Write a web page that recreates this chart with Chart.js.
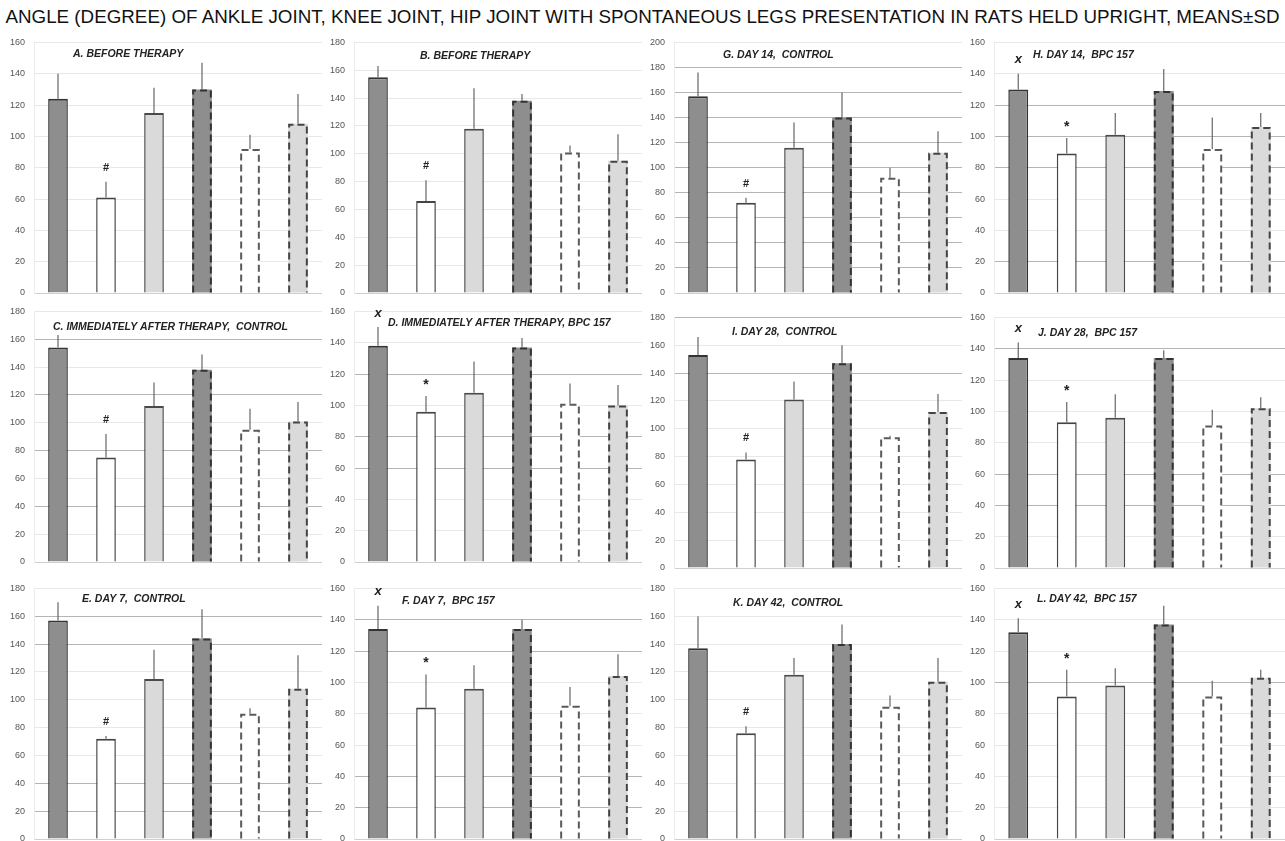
<!DOCTYPE html>
<html>
<head>
<meta charset="utf-8">
<script src="https://cdn.jsdelivr.net/npm/chart.js@4.4.0/dist/chart.umd.min.js"></script>
<style>
    html, body { margin: 0; padding: 0; background: #fff; }
    body { width: 1285px; height: 841px; overflow: hidden; position: relative; font-family: 'Liberation Sans', Arial, sans-serif; }
    #title { position: absolute; left: 0; top: 6px; width: 1285px; text-align: center; font-size: 18.8px; color: #111; white-space: nowrap; }
    .panel { position: absolute; }
</style>
</head>
<body>
<div id="title">ANGLE (DEGREE) OF ANKLE JOINT, KNEE JOINT, HIP JOINT WITH SPONTANEOUS LEGS PRESENTATION IN RATS HELD UPRIGHT, MEANS±SD</div>
<script>
// six bars per panel: solid outline = first leg, dashed outline = second leg
const joints = ['Ankle 1', 'Knee 1', 'Hip 1', 'Ankle 2', 'Knee 2', 'Hip 2'];

// means and SD (degrees)
const meanA = [124, 61, 115, 130, 92, 108];
const sdA   = [16, 10, 16, 17, 9, 19];
const meanB = [155, 66, 118, 138, 101, 95];
const sdB   = [8, 15, 29, 5, 5, 19];
const meanC = [154, 75, 112, 138, 95, 101];
const sdC   = [9, 17, 17, 11, 15, 14];
const meanD = [138, 96, 108, 137, 101, 100];
const sdD   = [12, 10, 20, 6, 13, 13];
const meanE = [157, 72, 115, 144, 90, 108];
const sdE   = [13, 2, 21, 21, 4, 24];
const meanF = [134, 84, 96, 134, 85, 104];
const sdF   = [15, 21, 15, 6, 12, 14];
const meanG = [157, 72, 116, 140, 92, 112];
const sdG   = [19, 4, 20, 20, 8, 17];
const meanH = [130, 89, 101, 129, 92, 106];
const sdH   = [10, 10, 14, 14, 20, 9];
const meanI = [153, 78, 121, 147, 94, 112];
const sdI   = [13, 5, 13, 13, 1, 13];
const meanJ = [134, 93, 96, 134, 91, 102];
const sdJ   = [10, 13, 15, 5, 10, 7];
const meanK = [137, 76, 118, 140, 95, 113];
const sdK   = [23, 5, 12, 14, 8, 17];
const meanL = [132, 91, 98, 137, 91, 103];
const sdL   = [9, 17, 11, 12, 10, 5];

// significance marks above bars
const marksControl = ['', '#', '', '', '', ''];
const marksBpc = ['x', '*', '', '', '', ''];

// y axis tops
const yMaxA = 160, yMaxB = 180, yMaxC = 180, yMaxD = 160, yMaxE = 180, yMaxF = 160;
const yMaxG = 200, yMaxH = 160, yMaxI = 180, yMaxJ = 160, yMaxK = 180, yMaxL = 160;

const barFill = ['#8e8e8e', '#ffffff', '#dadada', '#8e8e8e', '#ffffff', '#dadada'];
const barEdge = ['#333333', '#444444', '#4a4a4a', '#333333', '#5a5a5a', '#444444'];
const dashed  = [false, false, false, true, true, true];

const panels = [
    { title: 'A. BEFORE THERAPY', mean: meanA, sd: sdA, max: yMaxA, marks: marksControl, left: 0, top: 35, tx: 73, ty: 19, strong: [] },
    { title: 'B. BEFORE THERAPY', mean: meanB, sd: sdB, max: yMaxB, marks: marksControl, left: 320, top: 35, tx: 100, ty: 21, strong: [] },
    { title: 'G. DAY 14,  CONTROL', mean: meanG, sd: sdG, max: yMaxG, marks: marksControl, left: 640, top: 35, tx: 83, ty: 20, strong: [20, 40, 60, 80, 100, 120, 140, 160, 180] },
    { title: 'H. DAY 14,  BPC 157', mean: meanH, sd: sdH, max: yMaxH, marks: marksBpc, left: 960, top: 35, tx: 73, ty: 20, strong: [20, 80, 100, 120] },
    { title: 'C. IMMEDIATELY AFTER THERAPY,  CONTROL', mean: meanC, sd: sdC, max: yMaxC, marks: marksControl, left: 0, top: 304, tx: 53, ty: 23, strong: [40, 80, 120, 160] },
    { title: 'D. IMMEDIATELY AFTER THERAPY, BPC 157', mean: meanD, sd: sdD, max: yMaxD, marks: marksBpc, left: 320, top: 304, tx: 68, ty: 19, strong: [60, 80, 120] },
    { title: 'I. DAY 28,  CONTROL', mean: meanI, sd: sdI, max: yMaxI, marks: marksControl, left: 640, top: 310, tx: 92, ty: 22, strong: [140, 180] },
    { title: 'J. DAY 28,  BPC 157', mean: meanJ, sd: sdJ, max: yMaxJ, marks: marksBpc, left: 960, top: 310, tx: 78, ty: 23, strong: [40, 60, 140] },
    { title: 'E. DAY 7,  CONTROL', mean: meanE, sd: sdE, max: yMaxE, marks: marksControl, left: 0, top: 581, tx: 82, ty: 18, strong: [20, 40, 140, 160] },
    { title: 'F. DAY 7,  BPC 157', mean: meanF, sd: sdF, max: yMaxF, marks: marksBpc, left: 320, top: 581, tx: 82, ty: 20, strong: [20, 40, 120, 140] },
    { title: 'K. DAY 42,  CONTROL', mean: meanK, sd: sdK, max: yMaxK, marks: marksControl, left: 640, top: 581, tx: 93, ty: 22, strong: [] },
    { title: 'L. DAY 42,  BPC 157', mean: meanL, sd: sdL, max: yMaxL, marks: marksBpc, left: 960, top: 581, tx: 77, ty: 18, strong: [100] }
];

// dashed outlines, error bars, marks and panel captions
const panelDecor = {
    id: 'panelDecor',
    afterDatasetsDraw(chart) {
        const p = chart.options.plugins.panelDecor;
        const ctx = chart.ctx;
        const yScale = chart.scales.y;
        const bars = chart.getDatasetMeta(0).data;
        ctx.save();
        bars.forEach((bar, i) => {
            const half = bar.width / 2;
            const l = bar.x - half + 1, r = bar.x + half - 1;
            if (dashed[i]) {
                ctx.setLineDash([7, 4]);
                ctx.lineWidth = 2;
                ctx.strokeStyle = barEdge[i];
                ctx.beginPath();
                ctx.moveTo(l, bar.base);
                ctx.lineTo(l, bar.y + 1);
                ctx.lineTo(r, bar.y + 1);
                ctx.lineTo(r, bar.base);
                ctx.stroke();
                ctx.setLineDash([]);
            }
            const yTop = yScale.getPixelForValue(p.mean[i] + p.sd[i]);
            ctx.lineWidth = 1.2;
            ctx.strokeStyle = '#666';
            ctx.beginPath();
            ctx.moveTo(bar.x, bar.y);
            ctx.lineTo(bar.x, yTop);
            ctx.stroke();

            const mark = p.marks[i];
            if (mark) {
                ctx.fillStyle = '#222';
                ctx.textAlign = 'center';
                ctx.textBaseline = 'middle';
                if (mark === 'x') ctx.font = 'italic bold 13px "Liberation Sans"';
                else if (mark === '*') ctx.font = 'bold 14px "Liberation Sans"';
                else ctx.font = 'bold 11px "Liberation Sans"';
                ctx.fillText(mark, bar.x, yTop - 14 + (mark === '*' ? 3 : 0));
            }
        });
        ctx.fillStyle = '#222';
        ctx.textAlign = 'left';
        ctx.textBaseline = 'middle';
        ctx.font = 'italic bold 10.5px "Liberation Sans"';
        ctx.fillText(p.title, p.tx, p.ty);
        ctx.restore();
    }
};

panels.forEach(p => {
    const div = document.createElement('div');
    div.className = 'panel';
    div.style.left = p.left + 'px';
    div.style.top = p.top + 'px';
    const canvas = document.createElement('canvas');
    canvas.width = p.left === 960 ? 325 : 322;
    canvas.height = 268;
    div.appendChild(canvas);
    document.body.appendChild(div);

    new Chart(canvas.getContext('2d'), {
        type: 'bar',
        data: {
            labels: joints,
            datasets: [{
                data: p.mean,
                backgroundColor: barFill,
                borderColor: barEdge,
                borderWidth: dashed.map(d => d ? 0 : { top: 2, left: 1.5, right: 1.5, bottom: 0 }),
                barPercentage: 0.41,
                categoryPercentage: 1
            }]
        },
        options: {
            responsive: false,
            animation: false,
            layout: { padding: { top: 0, right: 0, bottom: 10, left: 0 } },
            plugins: {
                legend: { display: false },
                tooltip: { enabled: false },
                panelDecor: p
            },
            scales: {
                x: {
                    grid: { display: false, drawTicks: false },
                    ticks: { display: false },
                    border: { color: '#cfcfcf' }
                },
                y: {
                    min: 0,
                    max: p.max,
                    afterFit: axis => { axis.width = 34; },
                    ticks: {
                        stepSize: 20,
                        color: '#555',
                        padding: 2,
                        font: { family: 'Liberation Sans', size: 9 }
                    },
                    grid: {
                        drawTicks: true,
                        tickLength: 7,
                        tickColor: 'rgba(0,0,0,0)',
                        color: c => p.strong.includes(c.tick.value) ? '#b4b4b4' : '#e8e8e8'
                    },
                    border: { display: true, color: '#ececec' }
                }
            }
        },
        plugins: [panelDecor]
    });
});
</script>
</body>
</html>
